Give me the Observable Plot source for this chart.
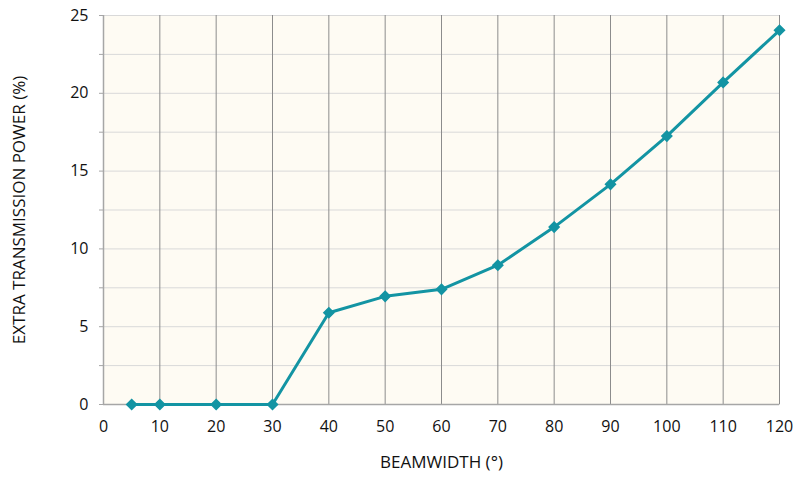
<!DOCTYPE html>
<html><head><meta charset="utf-8">
<script src="https://cdn.jsdelivr.net/npm/d3@7"></script>
<script src="https://cdn.jsdelivr.net/npm/@observablehq/plot@0.6"></script>
<style>
body{margin:0;background:#fff;}
</style>
</head><body><div id="chart"></div>
<script>
const beamwidth = [5, 10, 20, 30, 40, 50, 60, 70, 80, 90, 100, 110, 120];
const extraPower = [0, 0, 0, 0, 5.9, 6.95, 7.4, 8.95, 11.4, 14.15, 17.25, 20.7, 24.05];
const xTicks = [0, 10, 20, 30, 40, 50, 60, 70, 80, 90, 100, 110, 120];
const yTicks = [0, 5, 10, 15, 20, 25];
const yMinor = [0, 2.5, 5, 7.5, 10, 12.5, 15, 17.5, 20, 22.5, 25];
const xLabel = "BEAMWIDTH (°)";
const yLabel = "EXTRA TRANSMISSION POWER (%)";

const data = beamwidth.map((b, i) => ({b, p: extraPower[i]}));
const teal = "#1394a3";

const chart = Plot.plot({
  width: 796, height: 478,
  marginLeft: 103, marginRight: 17, marginTop: 15, marginBottom: 74,
  style: {fontFamily: "Open Sans", fontSize: "16px", color: "#111", background: "#fff"},
  x: {domain: [0, 120], label: null},
  y: {domain: [0, 25], label: null},
  marks: [
    Plot.frame({fill: "#fefbf3", stroke: "#d4d4d4"}),
    Plot.gridY(yMinor, {stroke: "#d9d9d9", strokeOpacity: 1, strokeWidth: 1}),
    Plot.gridX(xTicks.slice(1), {stroke: "#8c8c8c", strokeOpacity: 1, strokeWidth: 1}),
    Plot.ruleX([0], {stroke: "#a6a6a6", strokeWidth: 1.5}),
    Plot.ruleY([0], {stroke: "#a6a6a6", strokeWidth: 1.5}),
    Plot.axisY(yMinor, {tickSize: 4, stroke: "#a6a6a6", text: null, label: null}),
    Plot.axisY(yTicks, {tickSize: 0, tickPadding: 15, fontSize: 16, fill: "#111", label: null}),
    Plot.axisX(xTicks, {tickSize: 0, tickPadding: 16, fontSize: 16, fill: "#111", label: null}),
    Plot.line(data, {x: "b", y: "p", stroke: teal, strokeWidth: 3}),
    Plot.dot(data, {x: "b", y: "p", symbol: "diamond2", fill: teal, stroke: teal, r: 4.5}),
    Plot.text([xLabel], {frameAnchor: "bottom", dy: 63, fontSize: 17, fill: "#111"}),
    Plot.text([yLabel], {frameAnchor: "left", textAnchor: "middle", dx: -84, rotate: -90, fontSize: 17, fill: "#111"})
  ]
});
document.getElementById("chart").append(chart);
</script>
</body></html>
